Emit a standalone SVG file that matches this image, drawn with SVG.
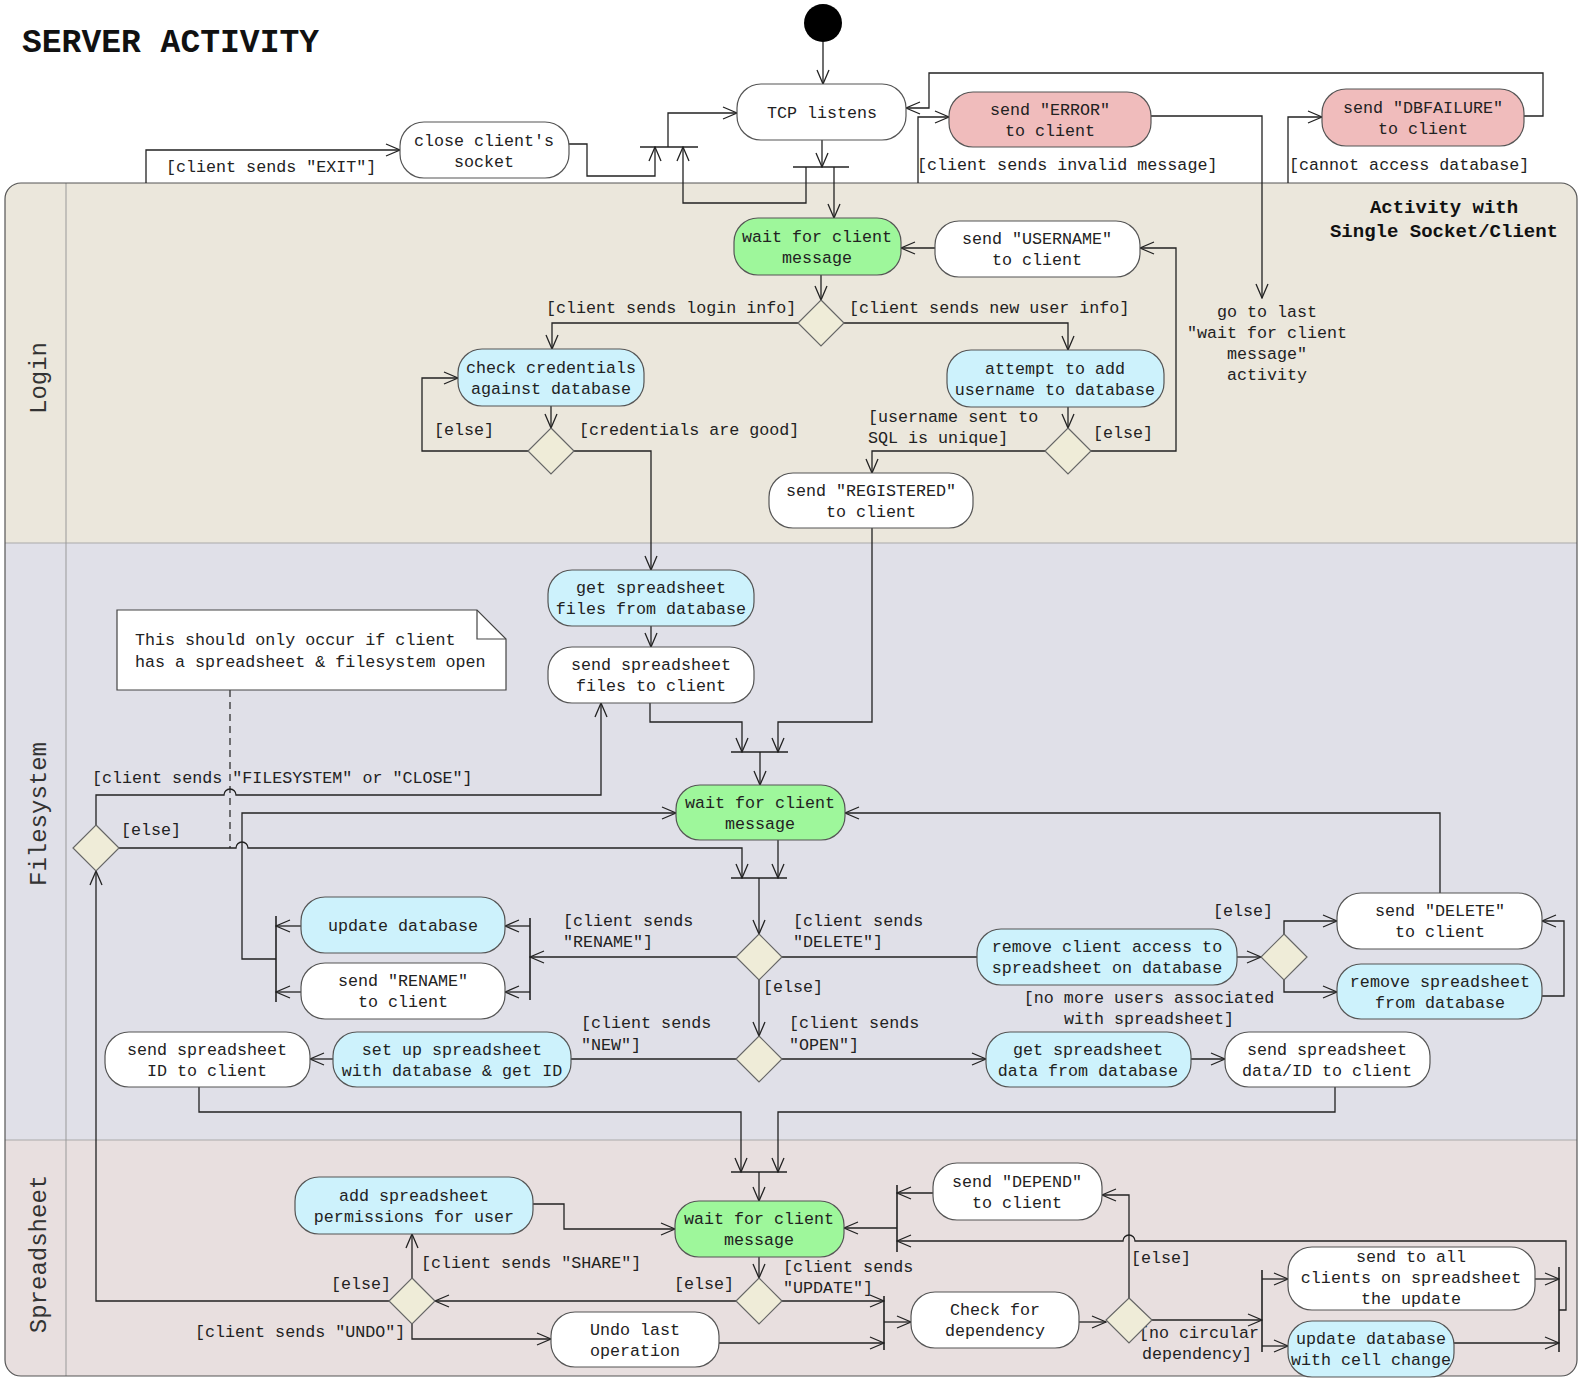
<svg xmlns="http://www.w3.org/2000/svg" width="1578" height="1378" viewBox="0 0 1578 1378">
<style>
.n{stroke:#555;stroke-width:1.2}
.w{fill:#fff}.g{fill:#9ef79b}.b{fill:#cdf2fc}.p{fill:#f0bcbc}
.d{fill:#efecd8;stroke:#666;stroke-width:1.2}
.t{font-family:"Liberation Mono","Courier New",monospace;font-size:16.7px;fill:#222;text-anchor:middle}
.s{font-family:"Liberation Mono","Courier New",monospace;font-size:16.7px;fill:#222}
.c{fill:none;stroke:#222;stroke-width:1.3;marker-end:url(#a)}
.c0{fill:none;stroke:#222;stroke-width:1.3}
.bar{fill:none;stroke:#222;stroke-width:1.6}
.lane{font-family:"Liberation Mono","DejaVu Sans Mono",monospace;font-size:24px;fill:#333;text-anchor:middle}
</style>
<defs>
<marker id="a" markerWidth="16" markerHeight="14" refX="15" refY="7" orient="auto" markerUnits="userSpaceOnUse"><path d="M1,1 L15,7 L1,13" fill="none" stroke="#222" stroke-width="1.3"/></marker>
<clipPath id="cl"><rect x="5" y="183" width="1572" height="1193" rx="16"/></clipPath>
</defs>
<rect width="1578" height="1378" fill="#fff"/>
<text x="22" y="52" font-family="Liberation Mono, Courier New, monospace" font-weight="bold" font-size="33" fill="#111">SERVER ACTIVITY</text>

<g id="swimlanes">
<g clip-path="url(#cl)">
<rect x="5" y="183" width="1572" height="360" fill="#ebe7dc"/>
<rect x="5" y="543" width="1572" height="597" fill="#e0e0e8"/>
<rect x="5" y="1140" width="1572" height="240" fill="#e8dfdf"/>
</g>
<line x1="5" y1="543" x2="1577" y2="543" stroke="#aaa" stroke-width="1.2"/>
<line x1="5" y1="1140" x2="1577" y2="1140" stroke="#aaa" stroke-width="1.2"/>
<line x1="66" y1="183" x2="66" y2="1376" stroke="#999" stroke-width="1"/>
<rect x="5" y="183" width="1572" height="1193" rx="16" fill="none" stroke="#555" stroke-width="1.2"/>
<text class="lane" transform="translate(46,378) rotate(-90)">Login</text>
<text class="lane" transform="translate(46,814) rotate(-90)">Filesystem</text>
<text class="lane" transform="translate(46,1254) rotate(-90)">Spreadsheet</text>
<text x="1444" y="213" font-family="Liberation Mono, Courier New, monospace" font-weight="bold" font-size="19" fill="#111" text-anchor="middle">Activity with</text>
<text x="1444" y="237" font-family="Liberation Mono, Courier New, monospace" font-weight="bold" font-size="19" fill="#111" text-anchor="middle">Single Socket/Client</text>
</g>

<g id="connectors">
<path class="c" d="M823,42 V84"/>
<path class="c" d="M822,140 V167"/>
<path class="bar" d="M793,167 H849"/>
<path class="c" d="M834,167 V218"/>
<path class="c" d="M806,167 V203 H683 V147"/>
<path class="c" d="M569,144 H587 V176 H655 V147"/>
<path class="bar" d="M640,147 H698"/>
<path class="c" d="M668,147 V113 H737"/>
<path class="c" d="M146,183 V150 H400"/>
<path class="c" d="M918,183 V117 H949"/>
<path class="c" d="M1151,116 H1262 V298"/>
<path class="c" d="M1288,183 V117 H1322"/>
<path class="c" d="M1524,116 H1543 V73 H929 V108 H906"/>

<path class="c" d="M935,248 H901"/>
<path class="c" d="M821,275 V300"/>
<path class="c" d="M798,323 H552 V349"/>
<path class="c" d="M844,323 H1068 V350"/>
<path class="c" d="M551,406 V428"/>
<path class="c" d="M528,451 H422 V378 H458"/>
<path class="c" d="M574,451 H651 V570"/>
<path class="c" d="M1068,407 V428"/>
<path class="c" d="M1091,451 H1176 V248 H1140"/>
<path class="c" d="M1045,451 H872 V473"/>
<path class="c" d="M872,528 V722 H778 V752"/>

<path class="c" d="M651,626 V647"/>
<path class="c" d="M650,703 V722 H742 V752"/>
<path class="bar" d="M731,752 H788"/>
<path class="c" d="M760,752 V785"/>
<path class="c" d="M96,825 V795 H224 a6,6 0 0 1 12,0 H601 V703"/>
<path class="c" d="M119,848 H236 a6,6 0 0 1 12,0 H742 V878"/>
<path d="M230,690 V848" fill="none" stroke="#222" stroke-width="1.2" stroke-dasharray="7,5"/>
<path class="c" d="M778,840 V878"/>
<path class="bar" d="M731,878 H787"/>
<path class="c" d="M759,878 V934"/>
<path class="c" d="M736,957 H530"/>
<path class="bar" d="M530,918 V1000"/>
<path class="c" d="M530,926 H505"/>
<path class="c" d="M530,992 H505"/>
<path class="c" d="M301,926 H276"/>
<path class="c" d="M301,992 H276"/>
<path class="bar" d="M276,916 V1002"/>
<path class="c" d="M276,959 H242 V813 H676"/>
<path class="c0" d="M782,957 H977"/>
<path class="c" d="M1237,957 H1261"/>
<path class="c" d="M1284,934 V921 H1337"/>
<path class="c" d="M1284,980 V992 H1337"/>
<path class="c" d="M1542,996 H1564 V921 H1542"/>
<path class="c" d="M1440,893 V813 H845"/>
<path class="c" d="M759,980 V1036"/>
<path class="c0" d="M736,1059 H571"/>
<path class="c" d="M333,1059 H310"/>
<path class="c" d="M199,1087 V1112 H741 V1172"/>
<path class="c" d="M782,1059 H986"/>
<path class="c" d="M1191,1059 H1225"/>
<path class="c" d="M1335,1087 V1112 H778 V1172"/>

<path class="bar" d="M731,1172 H787"/>
<path class="c" d="M759,1172 V1201"/>
<path class="c" d="M533,1204 H564 V1229 H675"/>
<path class="c" d="M759,1257 V1278"/>
<path class="c" d="M736,1301 H435"/>
<path class="c" d="M412,1278 V1234"/>
<path class="c" d="M389,1301 H96 V871"/>
<path class="c" d="M412,1324 V1339 H551"/>
<path class="c" d="M719,1343 H884"/>
<path class="c" d="M782,1301 H884"/>
<path class="bar" d="M884,1296 V1350"/>
<path class="c" d="M884,1322 H911"/>
<path class="c" d="M1079,1322 H1106"/>
<path class="c" d="M1129,1298 V1195 H1102"/>
<path class="c" d="M933,1193 H897"/>
<path class="bar" d="M897,1185 V1252"/>
<path class="c" d="M897,1228 H844"/>
<path class="c" d="M1559,1310 H1566 V1241 H1135 a6,6 0 0 0 -12,0 H897"/>
<path class="c" d="M1152,1320 H1262"/>
<path class="bar" d="M1262,1270 V1352"/>
<path class="c" d="M1262,1279 H1288"/>
<path class="c" d="M1262,1346 H1288"/>
<path class="c" d="M1535,1279 H1559"/>
<path class="c" d="M1454,1343 H1559"/>
<path class="bar" d="M1559,1267 V1352"/>
</g>

<g id="labels">
<text class="s" x="166" y="172">[client sends "EXIT"]</text>
<text class="s" x="917" y="170">[client sends invalid message]</text>
<text class="s" x="1289" y="170">[cannot access database]</text>
<text class="s" x="546" y="313">[client sends login info]</text>
<text class="s" x="849" y="313">[client sends new user info]</text>
<text class="s" x="434" y="435">[else]</text>
<text class="s" x="579" y="435">[credentials are good]</text>
<text class="s" x="868" y="422">[username sent to</text>
<text class="s" x="868" y="443">SQL is unique]</text>
<text class="s" x="1093" y="438">[else]</text>
<text class="t" x="1267" y="317">go to last</text>
<text class="t" x="1267" y="338">"wait for client</text>
<text class="t" x="1267" y="359">message"</text>
<text class="t" x="1267" y="380">activity</text>
<text class="s" x="92" y="783">[client sends "FILESYSTEM" or "CLOSE"]</text>
<text class="s" x="121" y="835">[else]</text>
<text class="s" x="563" y="926">[client sends</text>
<text class="s" x="563" y="947">"RENAME"]</text>
<text class="s" x="793" y="926">[client sends</text>
<text class="s" x="793" y="947">"DELETE"]</text>
<text class="s" x="763" y="992">[else]</text>
<text class="s" x="581" y="1028">[client sends</text>
<text class="s" x="581" y="1050">"NEW"]</text>
<text class="s" x="789" y="1028">[client sends</text>
<text class="s" x="789" y="1050">"OPEN"]</text>
<text class="s" x="1213" y="916">[else]</text>
<text class="t" x="1149" y="1003">[no more users associated</text>
<text class="t" x="1149" y="1024">with spreadsheet]</text>
<text class="s" x="421" y="1268">[client sends "SHARE"]</text>
<text class="s" x="674" y="1289">[else]</text>
<text class="s" x="331" y="1289">[else]</text>
<text class="s" x="195" y="1337">[client sends "UNDO"]</text>
<text class="s" x="783" y="1272">[client sends</text>
<text class="s" x="783" y="1293">"UPDATE"]</text>
<text class="s" x="1131" y="1263">[else]</text>
<text class="t" x="1199" y="1338">[no circular</text>
<text class="t" x="1197" y="1359">dependency]</text>
</g>

<g id="start"><circle cx="823" cy="23" r="19" fill="#000"/></g>
<g id="tcp"><rect class="n w" x="737" y="84" width="169" height="56" rx="24"/><text class="t" x="822" y="118">TCP listens</text></g>
<g id="close"><rect class="n w" x="400" y="122" width="169" height="56" rx="24"/><text class="t" x="484" y="146">close client's</text><text class="t" x="484" y="167">socket</text></g>
<g id="error"><rect class="n p" x="949" y="92" width="202" height="55" rx="24"/><text class="t" x="1050" y="115">send "ERROR"</text><text class="t" x="1050" y="136">to client</text></g>
<g id="dbfail"><rect class="n p" x="1322" y="89" width="202" height="57" rx="24"/><text class="t" x="1423" y="113">send "DBFAILURE"</text><text class="t" x="1423" y="134">to client</text></g>

<g id="loginWait"><rect class="n g" x="734" y="218" width="167" height="57" rx="24"/><text class="t" x="817" y="242">wait for client</text><text class="t" x="817" y="263">message</text></g>
<g id="username"><rect class="n w" x="935" y="221" width="205" height="56" rx="24"/><text class="t" x="1037" y="244">send "USERNAME"</text><text class="t" x="1037" y="265">to client</text></g>
<g id="d1"><polygon class="d" points="821,300 844,323 821,346 798,323"/></g>
<g id="check"><rect class="n b" x="458" y="349" width="186" height="57" rx="24"/><text class="t" x="551" y="373">check credentials</text><text class="t" x="551" y="394">against database</text></g>
<g id="attempt"><rect class="n b" x="947" y="350" width="217" height="57" rx="24"/><text class="t" x="1055" y="374">attempt to add</text><text class="t" x="1055" y="395">username to database</text></g>
<g id="d2"><polygon class="d" points="551,428 574,451 551,474 528,451"/></g>
<g id="d3"><polygon class="d" points="1068,428 1091,451 1068,474 1045,451"/></g>
<g id="registered"><rect class="n w" x="769" y="473" width="204" height="55" rx="24"/><text class="t" x="871" y="496">send "REGISTERED"</text><text class="t" x="871" y="517">to client</text></g>

<g id="getFiles"><rect class="n b" x="548" y="570" width="206" height="56" rx="24"/><text class="t" x="651" y="593">get spreadsheet</text><text class="t" x="651" y="614">files from database</text></g>
<g id="sendFiles"><rect class="n w" x="548" y="647" width="206" height="56" rx="24"/><text class="t" x="651" y="670">send spreadsheet</text><text class="t" x="651" y="691">files to client</text></g>
<g id="note"><path d="M117,610 H477 L506,639 V690 H117 Z" fill="#fff" stroke="#444" stroke-width="1.2"/><path d="M477,610 V639 H506" fill="none" stroke="#444" stroke-width="1.2"/><text class="s" x="135" y="645">This should only occur if client</text><text class="s" x="135" y="667">has a spreadsheet &amp; filesystem open</text></g>
<g id="fsWait"><rect class="n g" x="676" y="785" width="169" height="55" rx="24"/><text class="t" x="760" y="808">wait for client</text><text class="t" x="760" y="829">message</text></g>
<g id="d4"><polygon class="d" points="96,825 119,848 96,871 73,848"/></g>
<g id="d5"><polygon class="d" points="759,934 782,957 759,980 736,957"/></g>
<g id="d6"><polygon class="d" points="759,1036 782,1059 759,1082 736,1059"/></g>
<g id="updateDb"><rect class="n b" x="301" y="897" width="204" height="56" rx="24"/><text class="t" x="403" y="931">update database</text></g>
<g id="sendRename"><rect class="n w" x="301" y="963" width="204" height="56" rx="24"/><text class="t" x="403" y="986">send "RENAME"</text><text class="t" x="403" y="1007">to client</text></g>
<g id="setUp"><rect class="n b" x="333" y="1032" width="238" height="55" rx="24"/><text class="t" x="452" y="1055">set up spreadsheet</text><text class="t" x="452" y="1076">with database &amp; get ID</text></g>
<g id="sendId"><rect class="n w" x="105" y="1032" width="205" height="55" rx="24"/><text class="t" x="207" y="1055">send spreadsheet</text><text class="t" x="207" y="1076">ID to client</text></g>
<g id="removeAccess"><rect class="n b" x="977" y="929" width="260" height="56" rx="24"/><text class="t" x="1107" y="952">remove client access to</text><text class="t" x="1107" y="973">spreadsheet on database</text></g>
<g id="d7"><polygon class="d" points="1284,934 1307,957 1284,980 1261,957"/></g>
<g id="sendDelete"><rect class="n w" x="1337" y="893" width="205" height="56" rx="24"/><text class="t" x="1440" y="916">send "DELETE"</text><text class="t" x="1440" y="937">to client</text></g>
<g id="removeSs"><rect class="n b" x="1337" y="964" width="205" height="55" rx="24"/><text class="t" x="1440" y="987">remove spreadsheet</text><text class="t" x="1440" y="1008">from database</text></g>
<g id="getData"><rect class="n b" x="986" y="1032" width="205" height="55" rx="24"/><text class="t" x="1088" y="1055">get spreadsheet</text><text class="t" x="1088" y="1076">data from database</text></g>
<g id="sendData"><rect class="n w" x="1225" y="1032" width="205" height="55" rx="24"/><text class="t" x="1327" y="1055">send spreadsheet</text><text class="t" x="1327" y="1076">data/ID to client</text></g>

<g id="ssWait"><rect class="n g" x="675" y="1201" width="169" height="56" rx="24"/><text class="t" x="759" y="1224">wait for client</text><text class="t" x="759" y="1245">message</text></g>
<g id="addPerm"><rect class="n b" x="295" y="1177" width="238" height="57" rx="24"/><text class="t" x="414" y="1201">add spreadsheet</text><text class="t" x="414" y="1222">permissions for user</text></g>
<g id="d8"><polygon class="d" points="759,1278 782,1301 759,1324 736,1301"/></g>
<g id="d9"><polygon class="d" points="412,1278 435,1301 412,1324 389,1301"/></g>
<g id="undo"><rect class="n w" x="551" y="1312" width="168" height="55" rx="24"/><text class="t" x="635" y="1335">Undo last</text><text class="t" x="635" y="1356">operation</text></g>
<g id="depend"><rect class="n w" x="933" y="1163" width="169" height="57" rx="24"/><text class="t" x="1017" y="1187">send "DEPEND"</text><text class="t" x="1017" y="1208">to client</text></g>
<g id="checkDep"><rect class="n w" x="911" y="1292" width="168" height="56" rx="24"/><text class="t" x="995" y="1315">Check for</text><text class="t" x="995" y="1336">dependency</text></g>
<g id="d10"><polygon class="d" points="1129,1298 1152,1320 1129,1343 1106,1320"/></g>
<g id="sendAll"><rect class="n w" x="1288" y="1247" width="247" height="63" rx="24"/><text class="t" x="1411" y="1262">send to all</text><text class="t" x="1411" y="1283">clients on spreadsheet</text><text class="t" x="1411" y="1304">the update</text></g>
<g id="updateCell"><rect class="n b" x="1288" y="1321" width="166" height="56" rx="24"/><text class="t" x="1371" y="1344">update database</text><text class="t" x="1371" y="1365">with cell change</text></g>
</svg>
